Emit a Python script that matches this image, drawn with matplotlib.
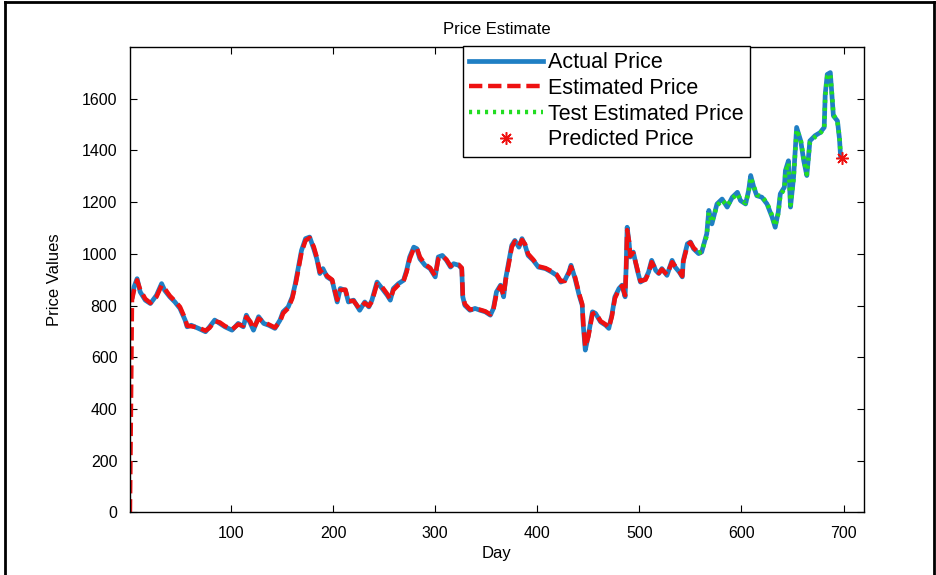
import numpy as np
import matplotlib
matplotlib.use("Agg")
import matplotlib.pyplot as plt
from matplotlib.lines import Line2D

# days
day = [1, 3, 5, 8, 11, 16, 21, 27, 32, 35,
       40, 45, 50, 55, 57, 61, 68, 75, 79, 84,
       89, 94, 101, 107, 112, 115, 119, 122, 127, 132,
       137, 143, 148, 151, 156, 160, 163, 166, 169, 173,
       177, 181, 184, 187, 190, 194, 199, 204, 207, 212,
       215, 220, 226, 231, 235, 238, 243, 248, 253, 256,
       259, 264, 269, 272, 275, 279, 282, 285, 290, 295,
       300, 303, 307, 311, 315, 318, 323, 326, 327, 329,
       334, 339, 344, 349, 354, 357, 360, 364, 367, 369,
       372, 375, 378, 382, 385, 388, 391, 396, 401, 408,
       414, 419, 423, 427, 431, 433, 437, 441, 444, 445,
       447, 450, 454, 457, 462, 467, 470, 473, 476, 480,
       483, 486, 487, 488, 490, 491, 494, 498, 501, 506,
       509, 512, 516, 519, 522, 527, 532, 535, 539, 542,
       543, 547, 550, 553, 558, 561, 566, 568, 571, 576,
       581, 586, 591, 596, 599, 604, 607, 609, 612, 615,
       620, 625, 630, 633, 636, 638, 642, 643, 646, 648,
       651, 654, 658, 661, 664, 667, 672, 677, 681, 682,
       684, 687, 689, 690, 694, 696, 697]

actual_price = [820, 828, 872, 904, 853, 821, 808, 840, 885, 859,
                834, 814, 789, 744, 718, 724, 712, 699, 718, 744,
                731, 718, 705, 731, 718, 763, 731, 705, 757, 731,
                724, 712, 744, 776, 795, 834, 885, 949, 1013, 1059,
                1065, 1020, 981, 924, 943, 911, 898, 814, 866, 859,
                814, 821, 782, 814, 795, 821, 891, 866, 840, 821,
                866, 885, 898, 936, 988, 1026, 1020, 981, 956, 943,
                911, 988, 994, 975, 949, 962, 956, 943, 834, 801,
                782, 789, 782, 776, 763, 789, 853, 879, 834, 904,
                968, 1033, 1052, 1026, 1059, 1033, 994, 975, 949, 943,
                930, 917, 891, 898, 930, 956, 904, 840, 801, 724,
                628, 686, 776, 770, 737, 724, 712, 763, 834, 866,
                879, 834, 949, 1103, 1039, 988, 1007, 936, 891, 904,
                930, 975, 936, 924, 943, 917, 975, 949, 930, 911,
                975, 1039, 1046, 1020, 1001, 1007, 1078, 1168, 1116, 1193,
                1212, 1181, 1219, 1238, 1206, 1193, 1245, 1303, 1258, 1225,
                1219, 1193, 1142, 1103, 1161, 1232, 1258, 1322, 1360, 1181,
                1296, 1489, 1437, 1360, 1303, 1437, 1457, 1469, 1489, 1617,
                1694, 1701, 1592, 1534, 1514, 1444, 1380]

# estimate on the training days (day 1 .. 561)
estimated_price = [0, 822, 860, 898, 862, 826, 810, 834, 878, 866,
                   838, 818, 795, 750, 722, 720, 715, 703, 714, 740,
                   735, 721, 708, 727, 722, 756, 738, 710, 750, 736,
                   727, 715, 738, 770, 790, 828, 878, 940, 1005, 1052,
                   1062, 1028, 987, 930, 940, 915, 900, 822, 860, 862,
                   818, 818, 788, 810, 798, 816, 884, 872, 845, 824,
                   860, 880, 895, 930, 980, 1020, 1023, 988, 960, 946,
                   915, 980, 992, 978, 953, 958, 958, 946, 842, 806,
                   785, 786, 784, 778, 766, 785, 846, 875, 840, 898,
                   960, 1026, 1048, 1030, 1054, 1038, 1000, 978, 952, 945,
                   933, 920, 895, 895, 926, 950, 910, 846, 806, 732,
                   640, 680, 768, 773, 740, 727, 714, 757, 828, 862,
                   876, 840, 940, 1092, 1045, 992, 1003, 942, 895, 900,
                   926, 968, 940, 926, 940, 920, 968, 953, 933, 914,
                   970, 1032, 1044, 1024, 1004, 1005]

# estimate on the test days (day 558 .. 697)
test_estimated_price = [1003, 1010, 1070, 1160, 1122, 1186,
                        1208, 1186, 1214, 1233, 1210, 1196, 1240, 1296, 1262, 1228,
                        1222, 1197, 1148, 1108, 1155, 1225, 1252, 1315, 1352, 1190,
                        1288, 1480, 1442, 1366, 1308, 1430, 1452, 1466, 1485, 1608,
                        1686, 1696, 1598, 1540, 1510, 1450, 1386]

predicted_day = [698]
predicted_price = [1370]

plt.rcParams['font.family'] = ['Liberation Sans', 'DejaVu Sans']

fig = plt.figure(figsize=(9.37, 5.75), dpi=100)
ax = fig.add_axes([0.1387, 0.1087, 0.7834, 0.8096])

n_est = len(estimated_price)
n_test = len(test_estimated_price)

ax.plot(day, actual_price, '-', color='#1f7fc4', lw=3.4, label='Actual Price')
ax.plot(day[:n_est], estimated_price, '--', color='#ee1111', lw=3.2,
        dashes=(3.0, 1.3), label='Estimated Price')
ax.plot(day[-n_test:], test_estimated_price, ':', color='#22dd22', lw=3.2,
        dashes=(0.7, 1.1), label='Test Estimated Price')
ax.plot(predicted_day, predicted_price, marker=(8, 2, 0), color='#ee1111',
        ms=9, mew=1.1, linestyle='none', label='Predicted Price')

ax.set_xlim(1, 720)
ax.set_ylim(0, 1800)
ax.set_xticks([100, 200, 300, 400, 500, 600, 700])
ax.set_yticks([0, 200, 400, 600, 800, 1000, 1200, 1400, 1600])
ax.tick_params(direction='in', top=True, right=True, length=5, labelsize=11.5)
ax.tick_params(axis='y', pad=9)
ax.tick_params(axis='x', pad=10)
for s in ax.spines.values():
    s.set_linewidth(1.0)

ax.set_title('Price Estimate', fontsize=12, pad=9)
ax.set_xlabel('Day', fontsize=12, labelpad=3)
ax.set_ylabel('Price Values', fontsize=12, labelpad=14)

leg = ax.legend(loc='upper left', bbox_to_anchor=(0.4537, 1.003), fontsize=15.5,
                handlelength=3.4, handletextpad=0.25, labelspacing=0.22,
                borderpad=0.3, borderaxespad=0, fancybox=False, framealpha=1)
leg.get_frame().set_edgecolor('black')
leg.get_frame().set_linewidth(1.0)

# outer frame of the picture
for xs, ys in [([0.0055, 0.0055], [0.0, 0.996]),
               ([0.0055, 0.997], [0.996, 0.996]),
               ([0.997, 0.997], [0.0, 0.996])]:
    fig.add_artist(Line2D(xs, ys, transform=fig.transFigure, color='black', lw=2))

fig.savefig('out.png', dpi=100)
